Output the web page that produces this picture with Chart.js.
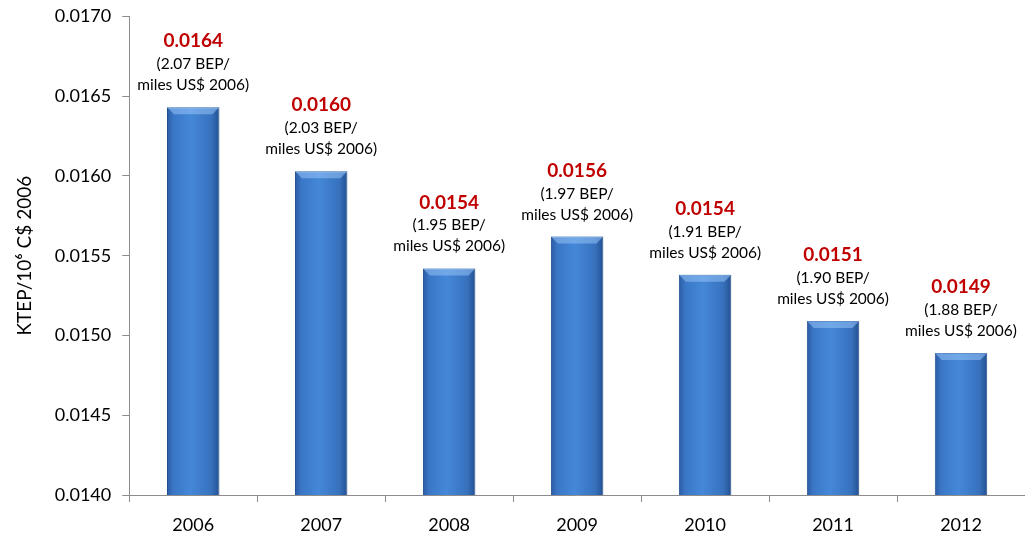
<!DOCTYPE html>
<html>
<head>
<meta charset="utf-8">
<script src="https://cdn.jsdelivr.net/npm/chart.js@4.4.1/dist/chart.umd.min.js"></script>
<style>
  html, body { margin: 0; padding: 0; background: #fff; }
</style>
</head>
<body>
<canvas id="energy-chart" width="1025" height="535"></canvas>
<script>
const years = ["2006", "2007", "2008", "2009", "2010", "2011", "2012"];
const intensity = [0.01643, 0.01603, 0.01542, 0.01562, 0.01538, 0.01509, 0.01489];
const valueLabels = ["0.0164", "0.0160", "0.0154", "0.0156", "0.0154", "0.0151", "0.0149"];
const bepLabels = ["(2.07 BEP/", "(2.03 BEP/", "(1.95 BEP/", "(1.97 BEP/", "(1.91 BEP/", "(1.90 BEP/", "(1.88 BEP/"];
const unitLabel = "miles US$ 2006)";
const yTicks = [0.0140, 0.0145, 0.0150, 0.0155, 0.0160, 0.0165, 0.0170];

const FONT = "Lato, 'Open Sans', sans-serif";

// gradient per bar, built from the x scale position
function barFill(context) {
  const chart = context.chart;
  const xScale = chart.scales.x;
  if (!xScale) return "#3c78c8";
  const cx = xScale.getPixelForValue(context.dataIndex);
  const half = xScale.width / years.length * 0.41 / 2;
  if (!isFinite(cx) || !isFinite(half) || half <= 0) return "#3c78c8";
  const g = chart.ctx.createLinearGradient(cx - half, 0, cx + half, 0);
  g.addColorStop(0, "#2a5ca3");
  g.addColorStop(0.12, "#3a76c6");
  g.addColorStop(0.45, "#4588d8");
  g.addColorStop(0.85, "#3771bd");
  g.addColorStop(1, "#23508f");
  return g;
}

const bevelPlugin = {
  id: "bevel",
  afterDatasetsDraw(chart) {
    const ctx = chart.ctx;
    const meta = chart.getDatasetMeta(0);
    ctx.save();
    meta.data.forEach((bar) => {
      const left = bar.x - bar.width / 2;
      const right = bar.x + bar.width / 2;
      const top = bar.y;
      const b = 7;
      ctx.fillStyle = "rgba(150, 195, 245, 0.55)";
      ctx.beginPath();
      ctx.moveTo(left, top);
      ctx.lineTo(right, top);
      ctx.lineTo(right - b, top + b);
      ctx.lineTo(left + b, top + b);
      ctx.closePath();
      ctx.fill();
    });
    ctx.restore();
  }
};

const labelPlugin = {
  id: "barLabels",
  afterDatasetsDraw(chart) {
    const ctx = chart.ctx;
    const meta = chart.getDatasetMeta(0);
    ctx.save();
    ctx.textAlign = "center";
    ctx.textBaseline = "middle";
    meta.data.forEach((bar, i) => {
      const x = bar.x;
      const y = bar.y;
      ctx.fillStyle = "#000";
      ctx.font = "15.5px " + FONT;
      ctx.fillText(unitLabel, x, y - 22);
      ctx.fillText(bepLabels[i], x, y - 43);
      ctx.fillStyle = "#c00000";
      ctx.font = "bold 19px " + FONT;
      ctx.fillText(valueLabels[i], x, y - 66);
    });
    ctx.restore();
  }
};

new Chart(document.getElementById("energy-chart"), {
  type: "bar",
  data: {
    labels: years,
    datasets: [{
      data: intensity,
      backgroundColor: barFill,
      borderColor: "#1f4c8a",
      borderWidth: 1,
      barPercentage: 0.41,
      categoryPercentage: 1.0
    }]
  },
  options: {
    responsive: false,
    animation: false,
    layout: { padding: { top: 0, right: 0, bottom: -13, left: 13 } },
    plugins: {
      legend: { display: false },
      tooltip: { enabled: false }
    },
    scales: {
      x: {
        grid: {
          offset: true,
          drawOnChartArea: false,
          drawTicks: true,
          tickLength: 7,
          color: "#8c8c8c"
        },
        border: { color: "#8c8c8c" },
        ticks: {
          color: "#000",
          padding: 14,
          font: { family: FONT, size: 18, lineHeight: 1.0 }
        }
      },
      y: {
        min: 0.0140,
        max: 0.0170,
        afterBuildTicks: (axis) => {
          axis.ticks = yTicks.map((v) => ({ value: v }));
        },
        grid: {
          drawOnChartArea: false,
          drawTicks: true,
          tickLength: 7,
          color: "#8c8c8c"
        },
        border: { color: "#8c8c8c" },
        ticks: {
          color: "#000",
          padding: 11,
          font: { family: FONT, size: 18, lineHeight: 0.6 },
          callback: (v) => Number(v).toFixed(4)
        },
        title: {
          display: true,
          text: "KTEP/10\u2076 C$ 2006",
          color: "#000",
          padding: { top: 0, bottom: 8 },
          font: { family: FONT, size: 19 }
        }
      }
    }
  },
  plugins: [bevelPlugin, labelPlugin]
});
</script>
</body>
</html>
